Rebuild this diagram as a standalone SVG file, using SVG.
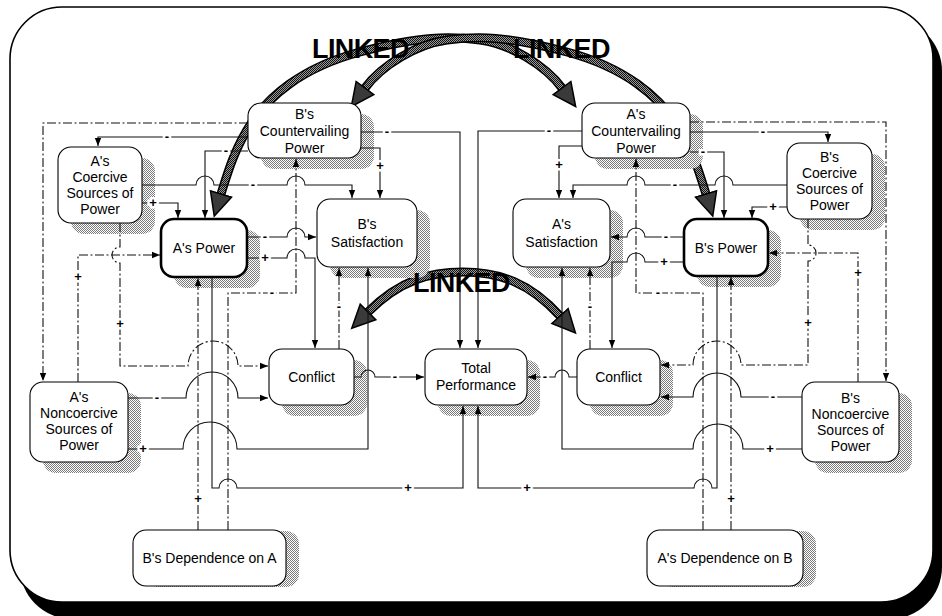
<svg xmlns="http://www.w3.org/2000/svg" width="942" height="616" viewBox="0 0 942 616">
<defs>
<style>
.t{font-family:"Liberation Sans",Arial,sans-serif;font-size:14px;text-anchor:middle;fill:#000}
.box{fill:#fff;stroke:#000;stroke-width:1.1}
.bold{stroke-width:2.6}
.shd{fill:url(#sh)}
.c{fill:none;stroke:#111;stroke-width:1.1;marker-end:url(#ah)}
.dd{stroke-dasharray:9 2.5 2 2.5}
.l{font-family:"Liberation Sans",Arial,sans-serif;font-size:13px;font-weight:bold;text-anchor:middle;fill:#000;stroke:#fff;stroke-width:5;paint-order:stroke}
.lk{font-family:"Liberation Sans",Arial,sans-serif;font-size:27px;font-weight:bold;fill:#000;letter-spacing:-0.6px}
.arcO{fill:none;stroke:#000;stroke-width:9}
.arcI{fill:none;stroke:url(#hd);stroke-width:6;marker-start:url(#big);marker-end:url(#big)}
</style>
<pattern id="sh" width="2" height="2" patternUnits="userSpaceOnUse"><rect width="2" height="2" fill="#fff"/><rect width="1" height="1" fill="#7a7a7a"/><rect x="1" y="1" width="1" height="1" fill="#7a7a7a"/></pattern>
<pattern id="hd" width="2" height="2" patternUnits="userSpaceOnUse"><rect width="2" height="2" fill="#9a9a9a"/><rect width="1" height="1" fill="#111"/><rect x="1" y="1" width="1" height="1" fill="#111"/></pattern>
<marker id="ah" markerUnits="userSpaceOnUse" markerWidth="8" markerHeight="8" viewBox="0 0 8 8" refX="8" refY="4" orient="auto"><path d="M0,0.8 L8,4 L0,7.2z" fill="#000"/></marker>
<marker id="big" markerUnits="userSpaceOnUse" markerWidth="26" markerHeight="26" viewBox="0 0 26 26" refX="1" refY="13" orient="auto-start-reverse"><path d="M1,2 L24,13 L1,24 z" fill="#3a3a3a" stroke="#000" stroke-width="1.5"/></marker>
</defs>

<g id="frame">
<rect x="20" y="19" width="922" height="600" rx="52" fill="#000"/>
<rect x="10" y="7" width="923" height="595" rx="52" fill="#fff" stroke="#000" stroke-width="1.6"/>
</g>

<g id="linked-arrows">
<path class="arcO" d="M221,194 C229,168 236,146 252,122 S300,68 360,52 S450,36 480,40 S545,65 562,88"/>
<path class="arcI" d="M221,194 C229,168 236,146 252,122 S300,68 360,52 S450,36 480,40 S545,65 562,88"/>
<path class="arcO" d="M706,194 C698,168 691,146 675,122 S627,68 567,52 S477,36 447,40 S382,65 365,88"/>
<path class="arcI" d="M706,194 C698,168 691,146 675,122 S627,68 567,52 S477,36 447,40 S382,65 365,88"/>
<path class="arcO" d="M368,312 C400,280 430,272 463,272 C500,272 530,283 560,316"/>
<path class="arcI" d="M368,312 C400,280 430,272 463,272 C500,272 530,283 560,316"/>
</g>

<g id="n-bcp"><rect class="shd" x="261" y="114" width="113" height="55" rx="13"/><rect class="box" x="248" y="103" width="113" height="55" rx="13"/><text class="t" x="304.5" y="119">B's</text><text class="t" x="304.5" y="136">Countervailing</text><text class="t" x="304.5" y="153">Power</text></g>
<g id="n-acp"><rect class="shd" x="595" y="114" width="108" height="55" rx="13"/><rect class="box" x="582" y="103" width="108" height="55" rx="13"/><text class="t" x="636" y="119">A's</text><text class="t" x="636" y="136">Countervailing</text><text class="t" x="636" y="153">Power</text></g>
<g id="n-acs"><rect class="shd" x="71" y="158" width="84" height="76" rx="13"/><rect class="box" x="58" y="147" width="84" height="76" rx="13"/><text class="t" x="100" y="166">A's</text><text class="t" x="100" y="182">Coercive</text><text class="t" x="100" y="198">Sources of</text><text class="t" x="100" y="214">Power</text></g>
<g id="n-bcs"><rect class="shd" x="800" y="154" width="85" height="76" rx="13"/><rect class="box" x="787" y="143" width="85" height="76" rx="13"/><text class="t" x="829.5" y="162">B's</text><text class="t" x="829.5" y="178">Coercive</text><text class="t" x="829.5" y="194">Sources of</text><text class="t" x="829.5" y="210">Power</text></g>
<g id="n-ap"><rect class="shd" x="174" y="230" width="86" height="58" rx="13"/><rect class="box bold" x="161" y="219" width="86" height="58" rx="13"/><text class="t" x="204" y="253">A's Power</text></g>
<g id="n-bp"><rect class="shd" x="697" y="230" width="84" height="57" rx="13"/><rect class="box bold" x="684" y="219" width="84" height="57" rx="13"/><text class="t" x="726" y="253">B's Power</text></g>
<g id="n-bsat"><rect class="shd" x="330" y="210" width="100" height="68" rx="13"/><rect class="box" x="317" y="199" width="100" height="68" rx="13"/><text class="t" x="367" y="229">B's</text><text class="t" x="367" y="247">Satisfaction</text></g>
<g id="n-asat"><rect class="shd" x="526" y="210" width="97" height="68" rx="13"/><rect class="box" x="513" y="199" width="97" height="68" rx="13"/><text class="t" x="561.5" y="229">A's</text><text class="t" x="561.5" y="247">Satisfaction</text></g>
<g id="n-conf-a"><rect class="shd" x="282" y="360" width="85" height="56" rx="13"/><rect class="box" x="269" y="349" width="85" height="56" rx="13"/><text class="t" x="311.5" y="382">Conflict</text></g>
<g id="n-tp"><rect class="shd" x="438" y="360" width="102" height="56" rx="13"/><rect class="box" x="425" y="349" width="102" height="56" rx="13"/><text class="t" x="476" y="373">Total</text><text class="t" x="476" y="390">Performance</text></g>
<g id="n-conf-b"><rect class="shd" x="590" y="360" width="83" height="56" rx="13"/><rect class="box" x="577" y="349" width="83" height="56" rx="13"/><text class="t" x="618.5" y="382">Conflict</text></g>
<g id="n-anc"><rect class="shd" x="43" y="393" width="98" height="80" rx="13"/><rect class="box" x="30" y="382" width="98" height="80" rx="13"/><text class="t" x="79" y="402">A's</text><text class="t" x="79" y="418">Noncoercive</text><text class="t" x="79" y="434">Sources of</text><text class="t" x="79" y="450">Power</text></g>
<g id="n-bnc"><rect class="shd" x="815" y="393" width="97" height="80" rx="13"/><rect class="box" x="802" y="382" width="97" height="80" rx="13"/><text class="t" x="850.5" y="403">B's</text><text class="t" x="850.5" y="419">Noncoercive</text><text class="t" x="850.5" y="435">Sources of</text><text class="t" x="850.5" y="451">Power</text></g>
<g id="n-bdep"><rect class="shd" x="146" y="531" width="153" height="56" rx="13"/><rect class="box" x="133" y="530" width="153" height="56" rx="13"/><text class="t" x="209.5" y="563">B's Dependence on A</text></g>
<g id="n-adep"><rect class="shd" x="660" y="531" width="156" height="56" rx="13"/><rect class="box" x="647" y="530" width="156" height="56" rx="13"/><text class="t" x="725" y="563">A's Dependence on B</text></g>

<g id="connectors">
<path class="c dd" d="M248,123 H43 V381"/>
<path class="c" d="M248,137 H98 V146"/>
<path class="c" d="M248,151 H205 V218"/>
<path class="c" d="M142,185 H196 a9,9 0 0 1 18,0 H287 a9,9 0 0 1 18,0 H352 V198"/>
<path class="c" d="M142,203 H178 V218"/>
<path class="c" d="M361,132 H460 V348"/>
<path class="c" d="M361,148 H380 V198"/>
<path class="c dd" d="M228,530 V293 H296 V159"/>
<path class="c dd" d="M198,530 V278"/>
<path class="c" d="M212,277 V488 H219 a9,9 0 0 1 18,0 H463 V406"/>
<path class="c dd" d="M120,223 V247 a8,8 0 0 0 0,16 V366 H188 a25,25 0 0 1 50,0 H268"/>
<path class="c dd" d="M78,382 V255 H160"/>
<path class="c" d="M247,237 H287 a9,9 0 0 1 18,0 H316"/>
<path class="c" d="M247,258 H287 a9,9 0 0 1 18,0 H315 V348"/>
<path class="c" d="M128,449 H183 a27,27 0 0 1 54,0 H368 V268"/>
<path class="c" d="M128,398 H186 a26,26 0 0 1 52,0 H268"/>
<path class="c dd" d="M339,349 V268"/>
<path class="c" d="M354,377 H361 a7,7 0 0 1 14,0 H424"/>

<path class="c dd" d="M690,122 H886 V381"/>
<path class="c" d="M690,132 H828 V142"/>
<path class="c" d="M690,152 H724 V218"/>
<path class="c" d="M787,185 H733 a9,9 0 0 0 -18,0 H645 a9,9 0 0 0 -18,0 H573 V198"/>
<path class="c" d="M787,207 H752 V218"/>
<path class="c" d="M582,146 H559 V198"/>
<path class="c" d="M582,131 H478 V348"/>
<path class="c dd" d="M703,530 V293 H636 V159"/>
<path class="c dd" d="M731,530 V277"/>
<path class="c" d="M717,276 V488 H712 a9,9 0 0 0 -18,0 H478 V406"/>
<path class="c dd" d="M808,219 V245 a8,8 0 0 1 0,16 V365 H741 a24,24 0 0 0 -48,0 H661"/>
<path class="c dd" d="M858,382 V253 H769"/>
<path class="c" d="M684,237 H645 a9,9 0 0 0 -18,0 H611"/>
<path class="c" d="M684,262 H645 a9,9 0 0 0 -18,0 H612 V348"/>
<path class="c" d="M802,449 H743 a25,25 0 0 0 -50,0 H562 V268"/>
<path class="c" d="M802,397 H741 a24,24 0 0 0 -48,0 H661"/>
<path class="c dd" d="M590,349 V268"/>
<path class="c" d="M577,377 H569 a7,7 0 0 0 -14,0 H528"/>
</g>

<g id="signs">
<text class="l" x="167" y="141">-</text>
<text class="l" x="226" y="155">-</text>
<text class="l" x="253" y="189">-</text>
<text class="l" x="153" y="207">+</text>
<text class="l" x="387" y="136">-</text>
<text class="l" x="380" y="170">+</text>
<text class="l" x="272" y="297">-</text>
<text class="l" x="198" y="503">+</text>
<text class="l" x="408" y="492">+</text>
<text class="l" x="120" y="328">+</text>
<text class="l" x="78" y="281">+</text>
<text class="l" x="265" y="241">-</text>
<text class="l" x="265" y="262">+</text>
<text class="l" x="143" y="453">+</text>
<text class="l" x="157" y="402">-</text>
<text class="l" x="339" y="311">-</text>
<text class="l" x="395" y="381">-</text>
<text class="l" x="763" y="136">-</text>
<text class="l" x="703" y="156">-</text>
<text class="l" x="675" y="189">-</text>
<text class="l" x="773" y="211">+</text>
<text class="l" x="559" y="169">+</text>
<text class="l" x="549" y="135">-</text>
<text class="l" x="658" y="297">-</text>
<text class="l" x="731" y="503">+</text>
<text class="l" x="527" y="492">+</text>
<text class="l" x="808" y="327">+</text>
<text class="l" x="858" y="277">+</text>
<text class="l" x="666" y="241">-</text>
<text class="l" x="664" y="266">+</text>
<text class="l" x="770" y="453">+</text>
<text class="l" x="773" y="401">-</text>
<text class="l" x="590" y="311">-</text>
<text class="l" x="545" y="381">-</text>
</g>

<g id="linked-labels">
<text class="lk" x="312" y="58">LINKED</text>
<text class="lk" x="513" y="58">LINKED</text>
<text class="lk" x="413" y="292">LINKED</text>
</g>
</svg>
